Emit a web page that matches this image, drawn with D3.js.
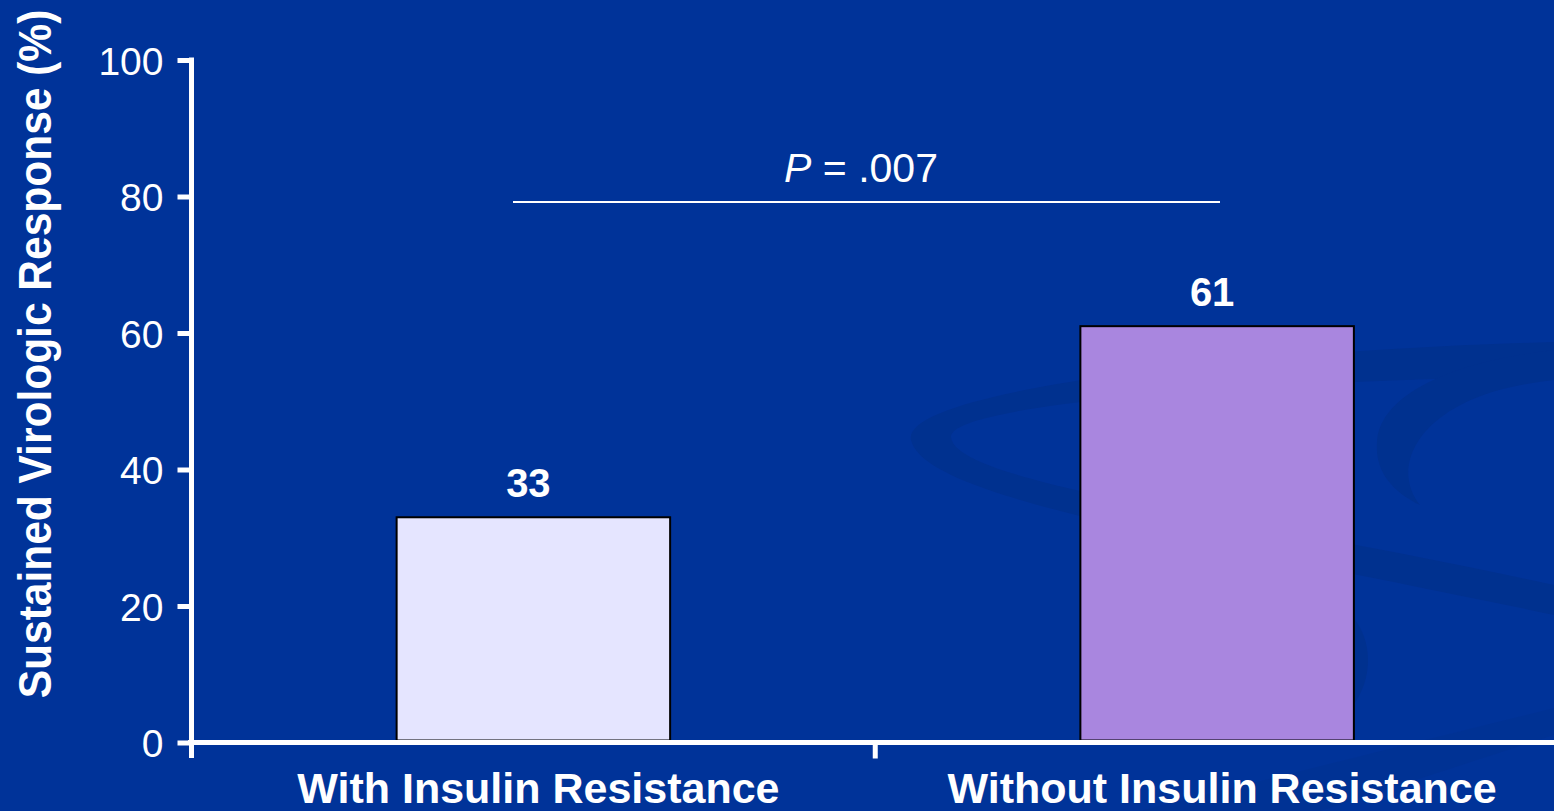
<!DOCTYPE html>
<html>
<head>
<meta charset="utf-8">
<script src="https://cdn.jsdelivr.net/npm/d3@7/dist/d3.min.js"></script>
<style>
  html, body { margin: 0; padding: 0; background: #003399; overflow: hidden; }
  svg { display: block; }
  text { font-family: "Liberation Sans", Arial, sans-serif; fill: #ffffff; }
</style>
</head>
<body>
<svg id="chart" width="1554" height="811"></svg>
<script>
// Sustained virologic response by insulin-resistance status
const categories = ["With Insulin Resistance", "Without Insulin Resistance"];
const svrValues = [33, 61];
const barColors = ["#e5e5ff", "#a986df"];
const yTicks = [0, 20, 40, 60, 80, 100];
const pLabel = { italic: "P", rest: " = .007" };
const yTitle = "Sustained Virologic Response (%)";

const W = 1554, H = 811;
const svg = d3.select("#chart");

// slide background with faint swooshes
svg.append("rect").attr("width", W).attr("height", H).attr("fill", "#003399");
const deco = svg.append("g").attr("fill", "#00318f");
deco.append("path").attr("d",
  "M1554,342 C1250,350 900,390 911,440 C925,500 1200,540 1554,615 " +
  "L1554,585 C1260,520 955,485 951,437 C950,405 1230,382 1554,376 Z");
deco.append("path").attr("d",
  "M1554,350 C1450,362 1380,395 1377,442 C1375,470 1390,490 1420,505 " +
  "C1400,480 1405,445 1440,418 C1470,395 1510,385 1554,380 Z");
deco.append("path").attr("d",
  "M1330,600 C1375,620 1380,680 1345,715 L1330,715 Z");
deco.append("path").attr("opacity", 0.5).attr("d",
  "M1140,811 L1554,708 L1554,735 L1320,811 Z");

const margin = { left: 191.5, top: 60, bottom: 742.5 };
const x = d3.scaleBand()
  .domain(categories)
  .range([margin.left, 1559])
  .paddingInner(0.6)
  .paddingOuter(0.3);
const y = d3.scaleLinear().domain([0, 100]).range([margin.bottom, margin.top]);

// bars
svg.append("g").selectAll("rect")
  .data(categories)
  .join("rect")
  .attr("x", d => x(d))
  .attr("width", x.bandwidth())
  .attr("y", (d, i) => y(svrValues[i]))
  .attr("height", (d, i) => y(0) - y(svrValues[i]) - 2)
  .attr("fill", (d, i) => barColors[i])
  .attr("stroke", "#000")
  .attr("stroke-width", 2);

// value labels
svg.append("g").selectAll("text")
  .data(categories)
  .join("text")
  .attr("x", d => x(d) + x.bandwidth() / 2 - 5)
  .attr("y", (d, i) => y(svrValues[i]) - 20)
  .attr("text-anchor", "middle")
  .style("font-size", "40px")
  .style("font-weight", "bold")
  .text((d, i) => svrValues[i]);

// y axis
const yAxis = svg.append("g")
  .attr("transform", `translate(${margin.left},0)`)
  .call(d3.axisLeft(y).tickValues(yTicks).tickSize(14).tickSizeOuter(0).tickPadding(14));
yAxis.select(".domain").remove();
yAxis.selectAll(".tick line").attr("stroke", "#fff").attr("stroke-width", 5);
yAxis.selectAll(".tick text")
  .style("font-size", "39px")
  .attr("fill", "#fff")
  .attr("dy", "0.36em");
yAxis.append("line")
  .attr("x1", 0).attr("x2", 0)
  .attr("y1", y(100) - 2.5).attr("y2", 758)
  .attr("stroke", "#fff").attr("stroke-width", 5);

// x axis
const xAxis = svg.append("g")
  .attr("transform", `translate(0,${margin.bottom})`)
  .call(d3.axisBottom(x).tickSize(0).tickPadding(30));
xAxis.select(".domain").remove();
xAxis.append("line")
  .attr("x1", margin.left - 3.5).attr("x2", W)
  .attr("stroke", "#fff").attr("stroke-width", 5);
const mid = (x(categories[0]) + x.bandwidth() + x(categories[1])) / 2;
xAxis.append("line")
  .attr("x1", mid).attr("x2", mid).attr("y1", 0).attr("y2", 16)
  .attr("stroke", "#fff").attr("stroke-width", 5);
xAxis.selectAll(".tick text")
  .style("font-size", "43px")
  .style("font-weight", "bold")
  .attr("fill", "#fff")
  .attr("dx", 5)
  .attr("dy", "0.71em");

// significance bracket
svg.append("line")
  .attr("x1", 513).attr("x2", 1220)
  .attr("y1", 202).attr("y2", 202)
  .attr("stroke", "#fff").attr("stroke-width", 2);
const pt = svg.append("text")
  .attr("x", 861).attr("y", 182)
  .attr("text-anchor", "middle")
  .style("font-size", "41px");
pt.append("tspan").style("font-style", "italic").text(pLabel.italic);
pt.append("tspan").text(pLabel.rest);

// y title
svg.append("text")
  .attr("transform", "translate(51,354) rotate(-90) scale(1,1.08)")
  .attr("text-anchor", "middle")
  .style("font-size", "42.5px")
  .style("font-weight", "bold")
  .text(yTitle);
</script>
</body>
</html>
